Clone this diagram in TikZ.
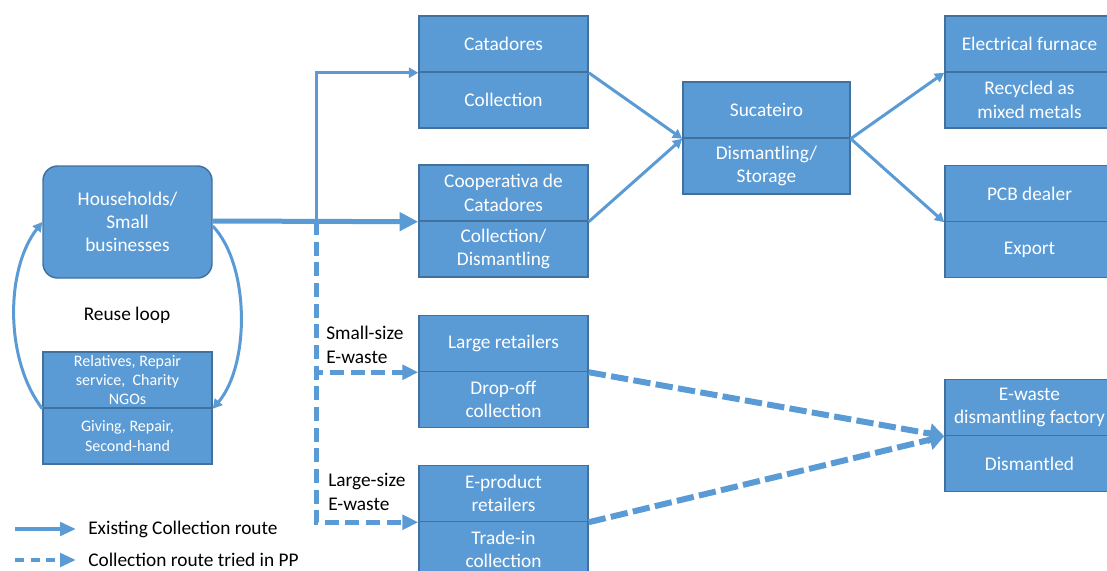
\documentclass[tikz,border=0pt]{standalone}
\usepackage{fontspec}
\setmainfont{Carlito}
\usetikzlibrary{arrows.meta}
\definecolor{boxfill}{HTML}{5B9BD5}
\definecolor{boxline}{HTML}{41719C}
\definecolor{flow}{HTML}{5B9BD5}

\begin{document}
\begin{tikzpicture}[x=0.75pt,y=-0.75pt,
  cell/.style={draw=boxline, line width=1.1pt, fill=boxfill, text=white,
    minimum width=126.75pt, minimum height=42pt, inner sep=1pt, align=center,
    font=\fontsize{14.5}{17.5}\selectfont},
  smallcell/.style={cell, font=\fontsize{12}{14.5}\selectfont},
  label/.style={text=black, font=\fontsize{14.5}{17.5}\selectfont, inner sep=0pt},
  thinflow/.style={draw=flow, line width=2.25pt, -{Triangle[length=7pt,width=7.5pt]}},
  mainflow/.style={draw=flow, line width=3.75pt, -{Triangle[length=14pt,width=13.5pt]}},
  trunkflow/.style={draw=flow, line width=3.75pt, dash pattern=on 10.5pt off 5pt,
    -{Triangle[length=12pt,width=11pt]}},
  longflow/.style={draw=flow, line width=4.5pt, dash pattern=on 13pt off 4pt,
    -{Triangle[length=11pt,width=15pt]}},
  keysolid/.style={draw=flow, line width=3pt, -{Triangle[length=12pt,width=10pt]}},
  keydash/.style={draw=flow, line width=3pt, dash pattern=on 6.75pt off 5pt,
    -{Triangle[length=12pt,width=10pt]}}
]
\useasboundingbox (0,0) rectangle (1107,571);
\clip (0,0) rectangle (1107,571);

% source and reuse loop
\node[cell, rounded corners=11pt, minimum height=84pt] (hh) at (127.5,222)
  {Households/\\Small\\businesses};
\node[smallcell] (relT) at (127.5,380) {Relatives, Repair\\service,\ \ Charity\\NGOs};
\node[smallcell] (relB) at (127.5,436) {Giving, Repair,\\Second-hand};
\node[label] (reuse) at (127,315) {Reuse loop};

% collectors
\node[cell] (catT) at (503.5,44) {Catadores};
\node[cell] (catB) at (503.5,100) {Collection};
\node[cell] (coT) at (503.5,193) {Cooperativa de\\Catadores};
\node[cell] (coB) at (503.5,249) {Collection/\\Dismantling};
\node[cell] (lrT) at (503.5,343.5) {Large retailers};
\node[cell] (lrB) at (503.5,399.5) {Drop-off\\collection};
\node[cell] (epT) at (503.5,493.5) {E-product\\retailers};
\node[cell] (epB) at (503.5,549.5) {Trade-in\\collection};

% scrap dealer
\node[cell, minimum width=125.25pt] (sucT) at (766.5,110) {Sucateiro};
\node[cell, minimum width=125.25pt] (sucB) at (766.5,166) {Dismantling/\\Storage};

% destinations
\node[cell] (elT) at (1029.5,44) {Electrical furnace};
\node[cell] (elB) at (1029.5,100) {Recycled as\\mixed metals};
\node[cell] (pcbT) at (1029.5,193.5) {PCB dealer};
\node[cell] (pcbB) at (1029.5,249.5) {Export};
\node[cell] (ewT) at (1029.5,407.5) {E-waste\\dismantling factory};
\node[cell] (ewB) at (1029.5,463.5) {Dismantled};

% size labels
\node[label, align=left, anchor=west] (small) at (326,345) {Small-size\\E-waste};
\node[label, align=left, anchor=west] (large) at (328,492) {Large-size\\E-waste};

% reuse loop curves
\draw[thinflow] (relT.south west) .. controls (5,360) and (5,270) .. (hh.west);
\draw[thinflow] ([yshift=-3pt]hh.east) .. controls (250,265) and (250,365) .. (relT.south east);

% existing routes
\coordinate (j) at (316,221);
\draw[mainflow] (hh.east |- j) -- (coT.south west);
\draw[thinflow] (j) |- (catT.south west);
\draw[thinflow] (catT.south east) -- (sucT.south west);
\draw[thinflow] (coT.south east) -- (sucT.south west);
\draw[thinflow] (sucT.south east) -- (elT.south west);
\draw[thinflow] (sucT.south east) -- (pcbT.south west);

% routes tried in the pilot
\draw[trunkflow] (j) |- (lrT.south west);
\draw[trunkflow] (j) |- (epT.south west);
\draw[longflow] (lrT.south east) -- (ewT.south west);
\draw[longflow] (epT.south east) -- (ewT.south west);

% key
\coordinate (k1a) at (15,529);
\coordinate (k1b) at (76,529);
\coordinate (k2a) at (15,560);
\coordinate (k2b) at (76,560);
\draw[keysolid] (k1a) -- (k1b);
\draw[keydash] (k2a) -- (k2b);
\node[label, anchor=west] (key1) at (88,529) {Existing Collection route};
\node[label, anchor=west] (key2) at (88,560) {Collection route tried in PP};
\end{tikzpicture}
\end{document}
